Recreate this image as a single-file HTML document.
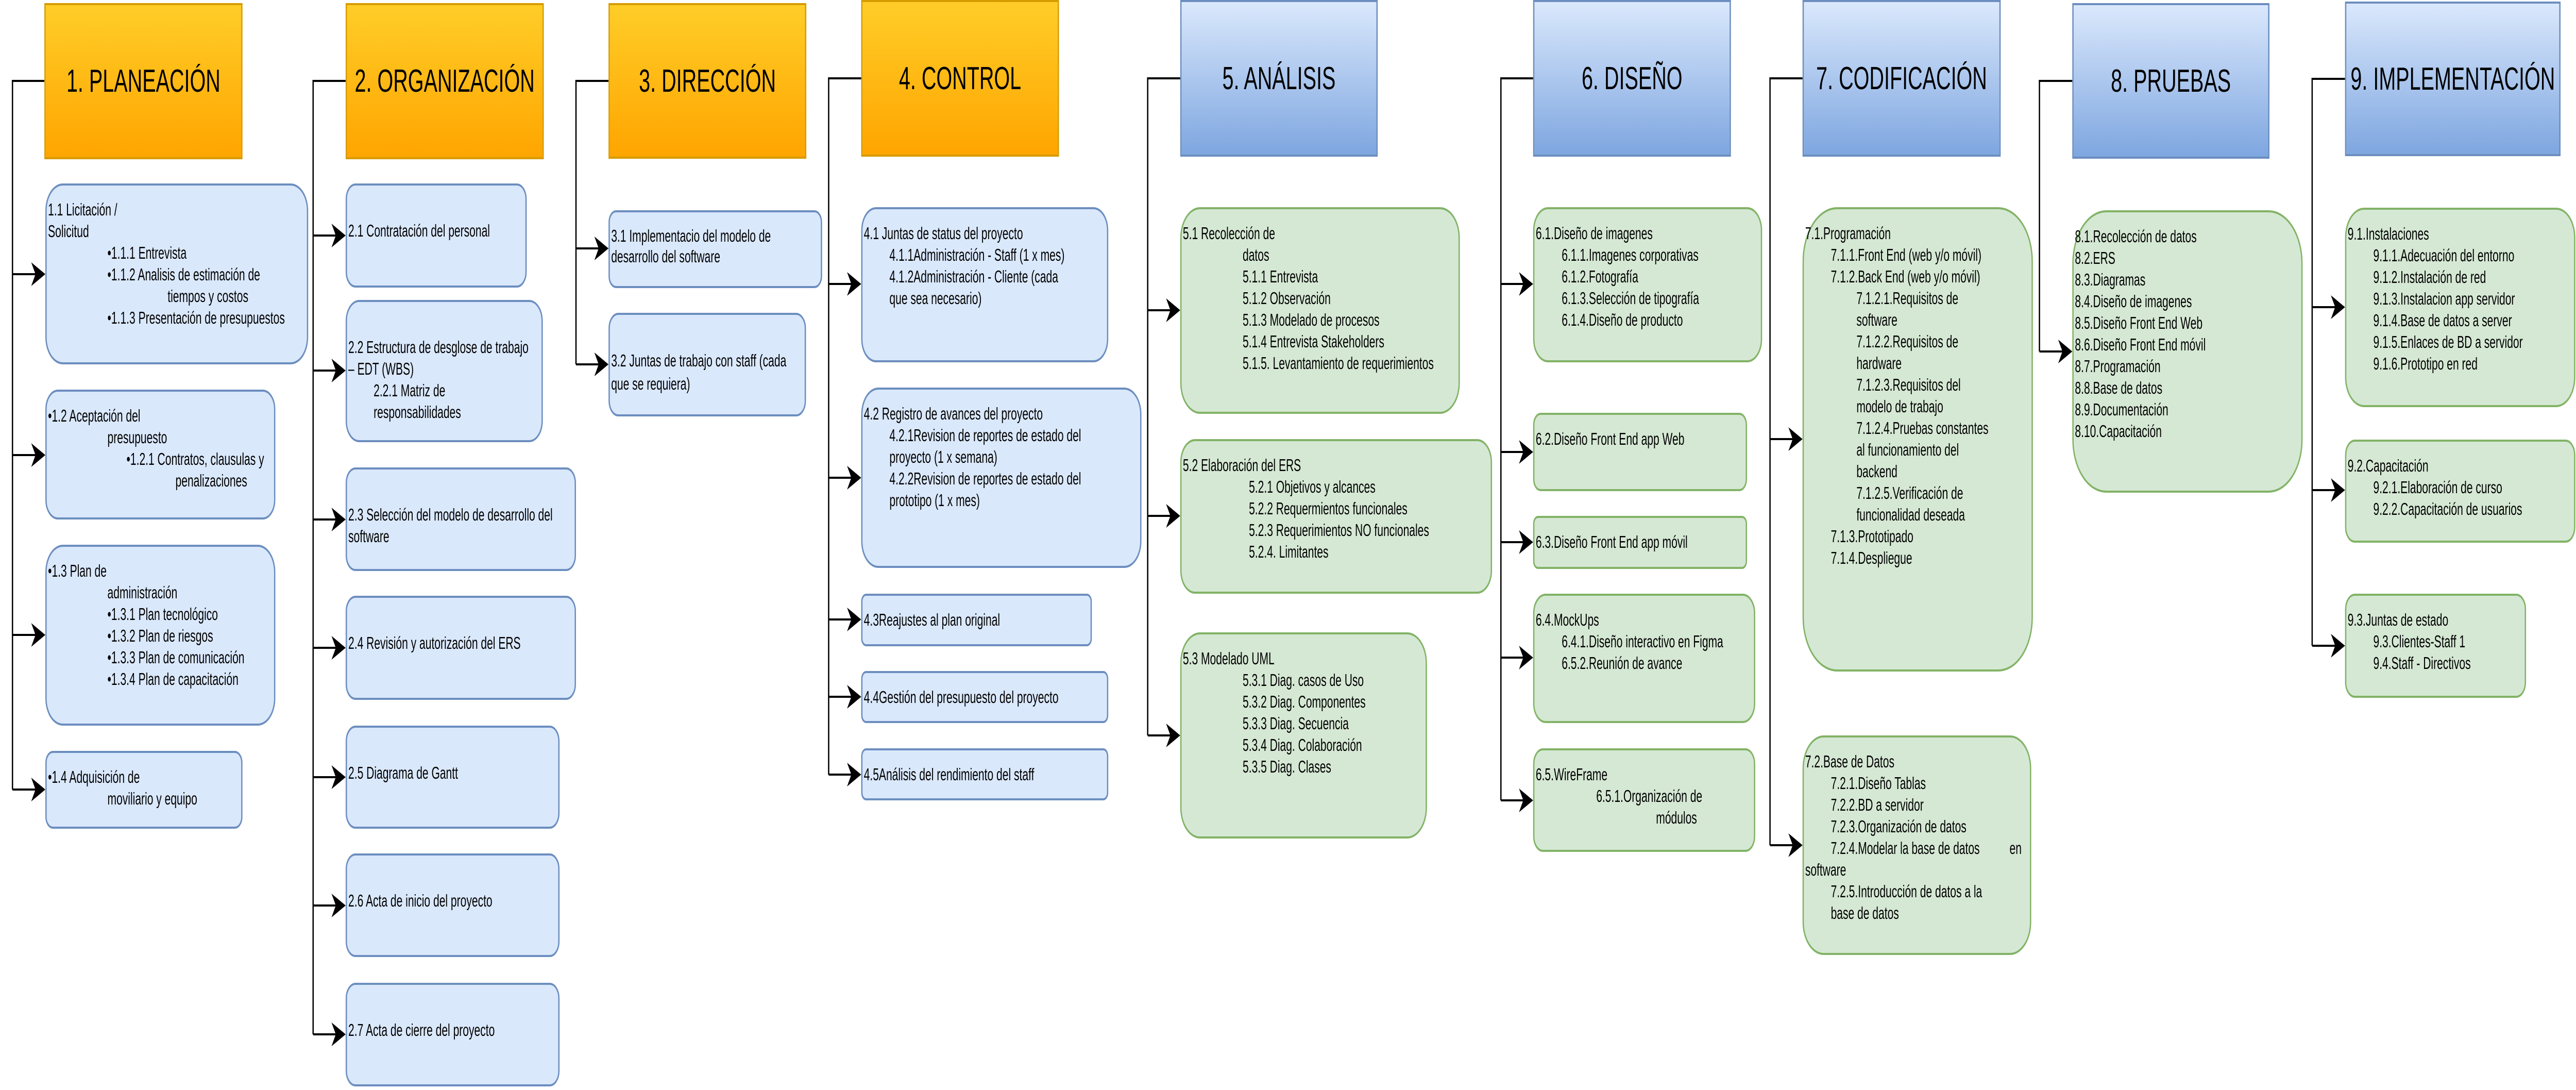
<!DOCTYPE html>
<html><head><meta charset="utf-8">
<style>
html,body{margin:0;padding:0;background:#fff;width:100%;height:100%;overflow:hidden;}
#wrap{position:fixed;left:0;top:0;width:100vw;height:100vh;}
#page{width:7840px;height:2115px;position:relative;overflow:hidden;font-family:"Liberation Sans",Arial,sans-serif;color:#000;background:#fff;}
.h{position:absolute;box-sizing:border-box;border:4px solid;display:flex;align-items:center;justify-content:center;font-size:62px;white-space:nowrap;}
.o{background:linear-gradient(#ffcd28,#ffa500);border-color:#d79b00;}
.u{background:linear-gradient(#dae8fc,#7ea6e0);border-color:#6c8ebf;}
.b{position:absolute;box-sizing:border-box;border:4px solid;font-size:33px;line-height:42px;padding:26px 0 0 4px;white-space:nowrap;}
.bl{background:#dae8fc;border-color:#6c8ebf;}
.gr{background:#d5e8d4;border-color:#82b366;}
.b div{position:relative;}
#conn{position:absolute;left:0;top:0;}
</style></head><body>
<svg id="wrap" viewBox="0 0 7840 2115" preserveAspectRatio="none" xmlns="http://www.w3.org/2000/svg">
<foreignObject x="0" y="0" width="7840" height="2115">
<div xmlns="http://www.w3.org/1999/xhtml" id="page">
<svg id="conn" width="7840" height="2115" viewBox="0 0 7840 2115" xmlns="http://www.w3.org/2000/svg">
<defs><polygon id="ah" points="0,0 -43,-23 -30,0 -43,23" fill="#000"/></defs>
<g stroke="#000" stroke-width="4" fill="none">
<path d="M135,157 H38 V1532"/>
<path d="M38,532 H110 M38,883 H110 M38,1232 H110 M38,1532 H110"/>
<path d="M1052,157 H953 V2007"/>
<path d="M953,457 H1024 M953,719 H1024 M953,1008 H1024 M953,1257 H1024 M953,1508 H1024 M953,1757 H1024 M953,2007 H1024"/>
<path d="M1852,157 H1753 V707"/>
<path d="M1753,482 H1824 M1753,707 H1824"/>
<path d="M2621,152 H2522 V1503"/>
<path d="M2522,551 H2593 M2522,927 H2593 M2522,1202 H2593 M2522,1352 H2593 M2522,1503 H2593"/>
<path d="M3592,152 H3493 V1427"/>
<path d="M3493,602 H3564 M3493,1001 H3564 M3493,1427 H3564"/>
<path d="M4666,152 H4568 V1553"/>
<path d="M4568,551 H4638 M4568,877 H4638 M4568,1052 H4638 M4568,1276 H4638 M4568,1553 H4638"/>
<path d="M5486,152 H5387 V1640"/>
<path d="M5387,852 H5458 M5387,1640 H5458"/>
<path d="M6307,157 H6207 V682"/>
<path d="M6207,682 H6279"/>
<path d="M7137,153 H7037 V1253"/>
<path d="M7037,596 H7109 M7037,951 H7109 M7037,1253 H7109"/>
</g>
<use href="#ah" x="138" y="532"/><use href="#ah" x="138" y="883"/><use href="#ah" x="138" y="1232"/><use href="#ah" x="138" y="1532"/>
<use href="#ah" x="1052" y="457"/><use href="#ah" x="1052" y="719"/><use href="#ah" x="1052" y="1008"/><use href="#ah" x="1052" y="1257"/><use href="#ah" x="1052" y="1508"/><use href="#ah" x="1052" y="1757"/><use href="#ah" x="1052" y="2007"/>
<use href="#ah" x="1852" y="482"/><use href="#ah" x="1852" y="707"/>
<use href="#ah" x="2621" y="551"/><use href="#ah" x="2621" y="927"/><use href="#ah" x="2621" y="1202"/><use href="#ah" x="2621" y="1352"/><use href="#ah" x="2621" y="1503"/>
<use href="#ah" x="3592" y="602"/><use href="#ah" x="3592" y="1001"/><use href="#ah" x="3592" y="1427"/>
<use href="#ah" x="4666" y="551"/><use href="#ah" x="4666" y="877"/><use href="#ah" x="4666" y="1052"/><use href="#ah" x="4666" y="1276"/><use href="#ah" x="4666" y="1553"/>
<use href="#ah" x="5486" y="852"/><use href="#ah" x="5486" y="1640"/>
<use href="#ah" x="6307" y="682"/>
<use href="#ah" x="7137" y="596"/><use href="#ah" x="7137" y="951"/><use href="#ah" x="7137" y="1253"/>
</svg>

<div class="h o" style="left:135px;top:6px;width:603px;height:303px;">1. PLANEACIÓN</div>
<div class="h o" style="left:1052px;top:6px;width:603px;height:303px;">2. ORGANIZACIÓN</div>
<div class="h o" style="left:1852px;top:6px;width:602px;height:302px;">3. DIRECCIÓN</div>
<div class="h o" style="left:2621px;top:0px;width:602px;height:304px;">4. CONTROL</div>
<div class="h u" style="left:3592px;top:0px;width:601px;height:304px;">5. ANÁLISIS</div>
<div class="h u" style="left:4666px;top:0px;width:602px;height:304px;">6. DISEÑO</div>
<div class="h u" style="left:5486px;top:0px;width:603px;height:304px;">7. CODIFICACIÓN</div>
<div class="h u" style="left:6307px;top:6px;width:600px;height:302px;">8. PRUEBAS</div>
<div class="h u" style="left:7137px;top:3px;width:656px;height:300px;">9. IMPLEMENTACIÓN</div>

<div class="b bl" style="left:138px;top:356px;width:800px;height:351px;border-radius:53px;">
<div>1.1 Licitación /</div><div>Solicitud</div>
<div style="padding-left:181px">•1.1.1 Entrevista</div>
<div style="padding-left:181px">•1.1.2 Analisis de estimación de</div>
<div style="padding-left:364px">tiempos y costos</div>
<div style="padding-left:181px">•1.1.3 Presentación de presupuestos</div>
</div>
<div class="b bl" style="left:138px;top:756px;width:700px;height:252px;border-radius:38px;">
<div>•1.2 Aceptación del</div>
<div style="padding-left:181px">presupuesto</div>
<div style="padding-left:239px">•1.2.1 Contratos, clausulas y</div>
<div style="padding-left:388px">penalizaciones</div>
</div>
<div class="b bl" style="left:138px;top:1057px;width:700px;height:351px;border-radius:53px;">
<div>•1.3 Plan de</div>
<div style="padding-left:181px">administración</div>
<div style="padding-left:181px">•1.3.1 Plan tecnológico</div>
<div style="padding-left:181px">•1.3.2 Plan de riesgos</div>
<div style="padding-left:181px">•1.3.3 Plan de comunicación</div>
<div style="padding-left:181px">•1.3.4 Plan de capacitación</div>
</div>
<div class="b bl" style="left:138px;top:1457px;width:600px;height:151px;border-radius:23px;">
<div>•1.4 Adquisición de</div>
<div style="padding-left:181px">moviliario y equipo</div>
</div>

<div class="b bl" style="left:1052px;top:356px;width:551px;height:202px;border-radius:30px;padding-top:67px;"><div>2.1 Contratación del personal</div></div>
<div class="b bl" style="left:1052px;top:582px;width:600px;height:276px;border-radius:41px;padding-top:67px;">
<div>2.2 Estructura de desglose de trabajo</div><div>– EDT (WBS)</div>
<div style="padding-left:77px">2.2.1 Matriz de</div>
<div style="padding-left:77px">responsabilidades</div>
</div>
<div class="b bl" style="left:1052px;top:907px;width:701px;height:201px;border-radius:30px;padding-top:67px;"><div>2.3 Selección del modelo de desarrollo del</div><div>software</div></div>
<div class="b bl" style="left:1052px;top:1156px;width:701px;height:202px;border-radius:30px;padding-top:67px;"><div>2.4 Revisión y autorización del ERS</div></div>
<div class="b bl" style="left:1052px;top:1408px;width:651px;height:200px;border-radius:30px;padding-top:67px;"><div>2.5 Diagrama de Gantt</div></div>
<div class="b bl" style="left:1052px;top:1656px;width:651px;height:201px;border-radius:30px;padding-top:67px;"><div>2.6 Acta de inicio del proyecto</div></div>
<div class="b bl" style="left:1052px;top:1907px;width:651px;height:201px;border-radius:30px;padding-top:67px;"><div>2.7 Acta de cierre del proyecto</div></div>

<div class="b bl" style="left:1852px;top:408px;width:650px;height:151px;border-radius:23px;line-height:40px;"><div>3.1 Implementacio del modelo de</div><div>desarrollo del software</div></div>
<div class="b bl" style="left:1852px;top:607px;width:601px;height:201px;border-radius:30px;padding-top:66px;line-height:45px;"><div>3.2 Juntas de trabajo con staff (cada</div><div>que se requiera)</div></div>

<div class="b bl" style="left:2621px;top:402px;width:752px;height:301px;border-radius:45px;">
<div>4.1 Juntas de status del proyecto</div>
<div style="padding-left:78px">4.1.1Administración - Staff (1 x mes)</div>
<div style="padding-left:78px">4.1.2Administración - Cliente (cada</div>
<div style="padding-left:78px">que sea necesario)</div>
</div>
<div class="b bl" style="left:2621px;top:752px;width:853px;height:350px;border-radius:52px;">
<div>4.2 Registro de avances del proyecto</div>
<div style="padding-left:78px">4.2.1Revision de reportes de estado del</div>
<div style="padding-left:78px">proyecto (1 x semana)</div>
<div style="padding-left:78px">4.2.2Revision de reportes de estado del</div>
<div style="padding-left:78px">prototipo (1 x mes)</div>
</div>
<div class="b bl" style="left:2621px;top:1152px;width:702px;height:102px;border-radius:15px;"><div>4.3Reajustes al plan original</div></div>
<div class="b bl" style="left:2621px;top:1302px;width:752px;height:101px;border-radius:15px;"><div>4.4Gestión del presupuesto del proyecto</div></div>
<div class="b bl" style="left:2621px;top:1452px;width:752px;height:101px;border-radius:15px;"><div>4.5Análisis del rendimiento del staff</div></div>

<div class="b gr" style="left:3592px;top:402px;width:851px;height:401px;border-radius:60px;">
<div>5.1 Recolección de</div>
<div style="padding-left:182px">datos</div>
<div style="padding-left:182px">5.1.1 Entrevista</div>
<div style="padding-left:182px">5.1.2 Observación</div>
<div style="padding-left:182px">5.1.3 Modelado de procesos</div>
<div style="padding-left:182px">5.1.4 Entrevista Stakeholders</div>
<div style="padding-left:182px">5.1.5. Levantamiento de requerimientos</div>
</div>
<div class="b gr" style="left:3592px;top:852px;width:949px;height:300px;border-radius:45px;">
<div>5.2 Elaboración del ERS</div>
<div style="padding-left:201px">5.2.1 Objetivos y alcances</div>
<div style="padding-left:201px">5.2.2 Requermientos funcionales</div>
<div style="padding-left:201px">5.2.3 Requerimientos NO funcionales</div>
<div style="padding-left:201px">5.2.4. Limitantes</div>
</div>
<div class="b gr" style="left:3592px;top:1227px;width:751px;height:400px;border-radius:60px;">
<div>5.3 Modelado UML</div>
<div style="padding-left:182px">5.3.1 Diag. casos de Uso</div>
<div style="padding-left:182px">5.3.2 Diag. Componentes</div>
<div style="padding-left:182px">5.3.3 Diag. Secuencia</div>
<div style="padding-left:182px">5.3.4 Diag. Colaboración</div>
<div style="padding-left:182px">5.3.5 Diag. Clases</div>
</div>

<div class="b gr" style="left:4666px;top:402px;width:697px;height:301px;border-radius:45px;">
<div>6.1.Diseño de imagenes</div>
<div style="padding-left:79px">6.1.1.Imagenes corporativas</div>
<div style="padding-left:79px">6.1.2.Fotografía</div>
<div style="padding-left:79px">6.1.3.Selección de tipografía</div>
<div style="padding-left:79px">6.1.4.Diseño de producto</div>
</div>
<div class="b gr" style="left:4666px;top:801px;width:651px;height:152px;border-radius:23px;"><div>6.2.Diseño Front End app Web</div></div>
<div class="b gr" style="left:4666px;top:1001px;width:651px;height:103px;border-radius:15px;"><div>6.3.Diseño Front End app móvil</div></div>
<div class="b gr" style="left:4666px;top:1152px;width:676px;height:251px;border-radius:38px;">
<div>6.4.MockUps</div>
<div style="padding-left:79px">6.4.1.Diseño interactivo en Figma</div>
<div style="padding-left:79px">6.5.2.Reunión de avance</div>
</div>
<div class="b gr" style="left:4666px;top:1452px;width:676px;height:201px;border-radius:30px;">
<div>6.5.WireFrame</div>
<div style="padding-left:184px">6.5.1.Organización de</div>
<div style="padding-left:366px">módulos</div>
</div>

<div class="b gr" style="left:5486px;top:402px;width:701px;height:901px;border-radius:105px;">
<div>7.1.Programación</div>
<div style="padding-left:78px">7.1.1.Front End (web y/o móvil)</div>
<div style="padding-left:78px">7.1.2.Back End (web y/o móvil)</div>
<div style="padding-left:156px">7.1.2.1.Requisitos de</div>
<div style="padding-left:156px">software</div>
<div style="padding-left:156px">7.1.2.2.Requisitos de</div>
<div style="padding-left:156px">hardware</div>
<div style="padding-left:156px">7.1.2.3.Requisitos del</div>
<div style="padding-left:156px">modelo de trabajo</div>
<div style="padding-left:156px">7.1.2.4.Pruebas constantes</div>
<div style="padding-left:156px">al funcionamiento del</div>
<div style="padding-left:156px">backend</div>
<div style="padding-left:156px">7.1.2.5.Verificación de</div>
<div style="padding-left:156px">funcionalidad deseada</div>
<div style="padding-left:78px">7.1.3.Prototipado</div>
<div style="padding-left:78px">7.1.4.Despliegue</div>
</div>
<div class="b gr" style="left:5486px;top:1427px;width:696px;height:426px;border-radius:64px;">
<div>7.2.Base de Datos</div>
<div style="padding-left:78px">7.2.1.Diseño Tablas</div>
<div style="padding-left:78px">7.2.2.BD a servidor</div>
<div style="padding-left:78px">7.2.3.Organización de datos</div>
<div style="padding-left:78px">7.2.4.Modelar la base de datos<span style="position:absolute;left:622px;top:0">en</span></div>
<div>software</div>
<div style="padding-left:78px">7.2.5.Introducción de datos a la</div>
<div style="padding-left:78px">base de datos</div>
</div>

<div class="b gr" style="left:6307px;top:408px;width:701px;height:548px;border-radius:103px;">
<div>8.1.Recolección de datos</div>
<div>8.2.ERS</div>
<div>8.3.Diagramas</div>
<div>8.4.Diseño de imagenes</div>
<div>8.5.Diseño Front End Web</div>
<div>8.6.Diseño Front End móvil</div>
<div>8.7.Programación</div>
<div>8.8.Base de datos</div>
<div>8.9.Documentación</div>
<div>8.10.Capacitación</div>
</div>

<div class="b gr" style="left:7137px;top:403px;width:701px;height:387px;border-radius:58px;">
<div>9.1.Instalaciones</div>
<div style="padding-left:78px">9.1.1.Adecuación del entorno</div>
<div style="padding-left:78px">9.1.2.Instalación de red</div>
<div style="padding-left:78px">9.1.3.Instalacion app servidor</div>
<div style="padding-left:78px">9.1.4.Base de datos a server</div>
<div style="padding-left:78px">9.1.5.Enlaces de BD a servidor</div>
<div style="padding-left:78px">9.1.6.Prototipo en red</div>
</div>
<div class="b gr" style="left:7137px;top:853px;width:701px;height:200px;border-radius:30px;">
<div>9.2.Capacitación</div>
<div style="padding-left:78px">9.2.1.Elaboración de curso</div>
<div style="padding-left:78px">9.2.2.Capacitación de usuarios</div>
</div>
<div class="b gr" style="left:7137px;top:1152px;width:551px;height:202px;border-radius:30px;">
<div>9.3.Juntas de estado</div>
<div style="padding-left:78px">9.3.Clientes-Staff 1</div>
<div style="padding-left:78px">9.4.Staff - Directivos</div>
</div>
</div>
</foreignObject>
</svg>
</body></html>
